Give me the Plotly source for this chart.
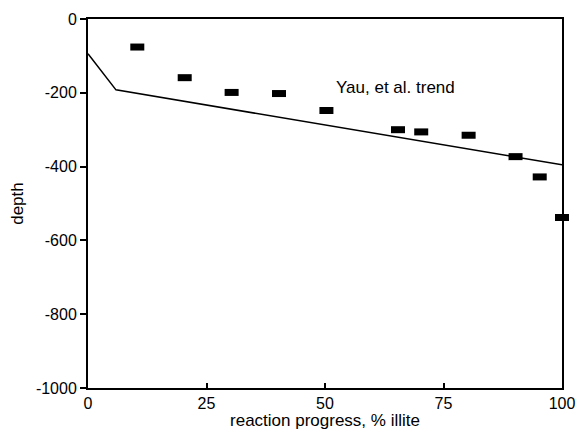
import plotly.graph_objects as go

# data
progress = [10.4, 20.4, 30.3, 40.3, 50.3, 65.4, 70.3, 80.3, 90.2, 95.3, 100.0]
depth = [-76, -159, -199, -202, -248, -300, -306, -315, -373, -428, -538]
trend_x = [0, 5.9, 100]
trend_y = [-94, -192, -395]
x_ticks = [0, 25, 50, 75, 100]
x_ticktext = ["0", "25", "50", "75", "100"]
y_ticks = [0, -200, -400, -600, -800, -1000]
y_ticktext = ["0", "-200", "-400", "-600", "-800", "-1000"]

FONT = "Liberation Sans, Arial, Helvetica, sans-serif"

fig = go.Figure()
fig.add_trace(go.Scatter(x=trend_x, y=trend_y, mode="lines",
                         line=dict(color="black", width=1.5), showlegend=False))
fig.add_trace(go.Scatter(x=progress, y=depth, mode="markers",
                         marker=dict(symbol="line-ew", size=10, color="black",
                                     line=dict(color="black", width=7)),
                         showlegend=False, cliponaxis=False))

fig.add_annotation(x=52.0, y=-186, xref="x", yref="y", text="Yau, et al. trend",
                   showarrow=False, xanchor="left", yanchor="middle",
                   font=dict(family=FONT, size=17, color="black"))

fig.update_layout(
    width=576, height=430,
    margin=dict(l=87.5, r=14.3, t=19.3, b=41.7),
    paper_bgcolor="white", plot_bgcolor="white",
    font=dict(family=FONT, size=16, color="black"),
)
fig.update_xaxes(range=[0, 100], tickvals=x_ticks, ticktext=x_ticktext,
                 ticks="inside", ticklen=5,
                 tickwidth=1.5, tickcolor="black", showgrid=False, zeroline=False,
                 showline=True, linecolor="black", linewidth=2, mirror=True,
                 automargin=False,
                 title=dict(text="reaction progress, % illite", standoff=3,
                            font=dict(size=17)),
                 tickfont=dict(size=16))
fig.update_yaxes(range=[-1000, 0], tickvals=y_ticks, ticktext=y_ticktext,
                 ticks="outside", ticklen=6,
                 tickwidth=1.5, tickcolor="black", showgrid=False, zeroline=False,
                 showline=True, linecolor="black", linewidth=2, mirror=True,
                 automargin=False,
                 title=dict(text="depth", standoff=8, font=dict(size=17)),
                 tickfont=dict(size=16))

fig.write_html("out.html", config={"displayModeBar": False},
               post_script="document.body.style.margin='0';document.body.style.overflow='hidden';")
